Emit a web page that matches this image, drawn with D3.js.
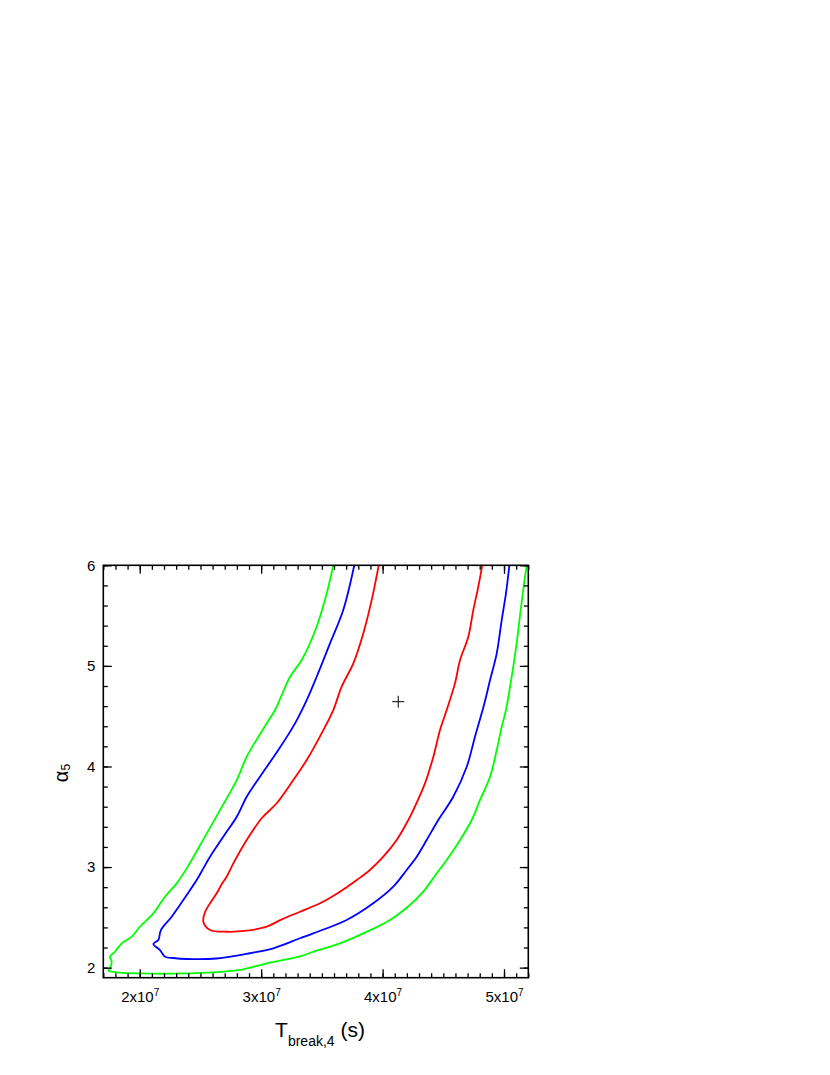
<!DOCTYPE html>
<html>
<head>
<meta charset="utf-8">
<script src="https://cdn.jsdelivr.net/npm/d3@7"></script>
<style>
  html, body { margin: 0; padding: 0; background: #fff; }
  svg { display: block; }
  text { font-family: "Liberation Sans", Arial, sans-serif; fill: #000; }
</style>
</head>
<body>
<svg id="chart" width="830" height="1075"></svg>
<script>
// ---------- data (x in seconds, y = alpha_5) ----------
const xDomain = [1.7e7, 5.2e7];
const yDomain = [1.9, 6];
const xTicks = [2e7, 3e7, 4e7, 5e7];
const xTickMantissa = ["2", "3", "4", "5"];
const xTickExponent = "7";
const yTicks = [2, 3, 4, 5, 6];
const yTickLabels = ["2", "3", "4", "5", "6"];

const bestFit = [4.129e7, 4.644];

// 1-sigma contour (red), x in units of 1e7 s
const redX = [3.968,3.910,3.841,3.759,3.663,3.594,3.512,3.375,3.265,3.128,3.004,2.881,2.771,2.716,2.678,2.634,2.579,2.538,2.524,2.579,2.716,2.881,3.046,3.164,3.320,3.485,3.649,3.787,3.896,4.006,4.116,4.212,4.253,4.349,4.418,4.473,4.528,4.596,4.638,4.706,4.747,4.788,4.821];
const redY = [6.0,5.654,5.323,5.025,4.793,4.561,4.362,4.064,3.865,3.634,3.485,3.269,3.037,2.904,2.836,2.739,2.640,2.553,2.457,2.374,2.357,2.367,2.407,2.477,2.556,2.640,2.755,2.871,2.971,3.103,3.269,3.468,3.567,3.832,4.097,4.362,4.561,4.826,5.058,5.290,5.555,5.787,6.0];

// 2-sigma contour (blue)
const blueX = [3.767,3.676,3.567,3.457,3.375,3.279,3.141,2.990,2.881,2.799,2.688,2.579,2.524,2.469,2.387,2.263,2.175,2.153,2.112,2.167,2.208,2.276,2.387,2.634,2.908,3.100,3.320,3.429,3.704,3.923,4.088,4.198,4.281,4.363,4.459,4.582,4.693,4.761,4.835,4.885,4.940,4.981,5.016,5.044];
const blueY = [6.0,5.555,5.224,4.892,4.660,4.429,4.163,3.898,3.699,3.500,3.302,3.103,2.987,2.871,2.722,2.506,2.374,2.275,2.235,2.175,2.109,2.096,2.086,2.091,2.143,2.192,2.292,2.341,2.474,2.640,2.805,2.971,3.103,3.269,3.468,3.699,3.997,4.296,4.611,4.859,5.125,5.456,5.721,6.0];

// 3-sigma contour (green)
const greenX = [3.594,3.540,3.457,3.334,3.238,3.114,3.046,2.881,2.799,2.716,2.537,2.387,2.304,2.208,2.112,2.002,1.934,1.852,1.796,1.755,1.769,1.755,1.741,1.838,2.002,2.276,2.552,2.826,3.046,3.320,3.429,3.649,3.841,4.061,4.225,4.335,4.446,4.528,4.638,4.734,4.802,4.885,4.940,4.981,5.016,5.063,5.104,5.137,5.165,5.187];
const greenY = [6.0,5.721,5.389,5.058,4.892,4.561,4.429,4.097,3.865,3.683,3.302,2.987,2.838,2.705,2.540,2.407,2.308,2.242,2.158,2.109,2.059,1.993,1.970,1.950,1.942,1.940,1.950,1.977,2.043,2.111,2.158,2.242,2.341,2.474,2.623,2.755,2.938,3.070,3.269,3.468,3.666,3.898,4.163,4.395,4.561,4.892,5.224,5.555,5.820,6.0];

const contours = [
  { name: "3sigma", xs: greenX, ys: greenY, color: "#00ff00" },
  { name: "2sigma", xs: blueX,  ys: blueY,  color: "#0000ff" },
  { name: "1sigma", xs: redX,   ys: redY,   color: "#ff0000" }
];

// ---------- layout ----------
const plot = { left: 103.3, right: 528.3, top: 565.3, bottom: 977.7 };
const svg = d3.select("#chart");

const x = d3.scaleLinear().domain(xDomain).range([plot.left, plot.right]);
const y = d3.scaleLinear().domain(yDomain).range([plot.bottom, plot.top]);

const xMinor = d3.range(17, 53).map(v => v * 1e6);
const yMinor = d3.range(20, 61, 2).map(v => v / 10);

svg.append("defs").append("clipPath").attr("id", "plotclip")
  .append("rect").attr("x", plot.left).attr("y", plot.top)
  .attr("width", plot.right - plot.left).attr("height", plot.bottom - plot.top);

// contours
const line = d3.line()
  .x(d => x(d[0] * 1e7)).y(d => y(d[1]))
  .curve(d3.curveCatmullRom.alpha(0.5));
const g = svg.append("g").attr("clip-path", "url(#plotclip)");
contours.forEach(c => {
  const pts = c.xs.map((v, i) => [v, c.ys[i]]);
  g.append("path").datum(pts)
    .attr("d", line)
    .attr("fill", "none")
    .attr("stroke", c.color)
    .attr("stroke-width", 1.8)
    .attr("stroke-linejoin", "round");
});

// best fit cross
const cx = x(bestFit[0]), cy = y(bestFit[1]);
svg.append("path")
  .attr("d", `M${cx - 6},${cy}H${cx + 6}M${cx},${cy - 6}V${cy + 6}`)
  .attr("stroke", "#000").attr("stroke-width", 1).attr("fill", "none");

// axes (inward ticks)
function styleAxis(sel) {
  sel.select(".domain").remove();
  sel.selectAll("line").attr("stroke", "#000").attr("stroke-width", 1.3);
  sel.selectAll("text").remove();
}
const fmt = () => "";
svg.append("g").attr("transform", `translate(0,${plot.bottom})`)
  .call(d3.axisBottom(x).tickValues(xMinor).tickSize(-4.5).tickFormat(fmt)).call(styleAxis);
svg.append("g").attr("transform", `translate(0,${plot.bottom})`)
  .call(d3.axisBottom(x).tickValues(xTicks).tickSize(-8.5).tickFormat(fmt)).call(styleAxis);
svg.append("g").attr("transform", `translate(0,${plot.top})`)
  .call(d3.axisTop(x).tickValues(xMinor).tickSize(-4.5).tickFormat(fmt)).call(styleAxis);
svg.append("g").attr("transform", `translate(0,${plot.top})`)
  .call(d3.axisTop(x).tickValues(xTicks).tickSize(-8.5).tickFormat(fmt)).call(styleAxis);
svg.append("g").attr("transform", `translate(${plot.left},0)`)
  .call(d3.axisLeft(y).tickValues(yMinor).tickSize(-4.5).tickFormat(fmt)).call(styleAxis);
svg.append("g").attr("transform", `translate(${plot.left},0)`)
  .call(d3.axisLeft(y).tickValues(yTicks).tickSize(-8.5).tickFormat(fmt)).call(styleAxis);
svg.append("g").attr("transform", `translate(${plot.right},0)`)
  .call(d3.axisRight(y).tickValues(yMinor).tickSize(-4.5).tickFormat(fmt)).call(styleAxis);
svg.append("g").attr("transform", `translate(${plot.right},0)`)
  .call(d3.axisRight(y).tickValues(yTicks).tickSize(-8.5).tickFormat(fmt)).call(styleAxis);

// frame
svg.append("rect")
  .attr("x", plot.left).attr("y", plot.top)
  .attr("width", plot.right - plot.left).attr("height", plot.bottom - plot.top)
  .attr("fill", "none").attr("stroke", "#000").attr("stroke-width", 1.6);

// y tick labels
svg.append("g").selectAll("text").data(yTicks).join("text")
  .attr("x", plot.left - 8)
  .attr("y", d => y(d))
  .attr("dy", "0.36em")
  .attr("text-anchor", "end")
  .attr("font-size", 15)
  .text((d, i) => yTickLabels[i]);

// x tick labels with superscripts
xTicks.forEach((v, i) => {
  const t = svg.append("text")
    .attr("x", x(v) + 0.5)
    .attr("y", 1002)
    .attr("text-anchor", "middle")
    .attr("font-size", 15);
  t.append("tspan").text(xTickMantissa[i] + "x10");
  t.append("tspan").attr("font-size", 10).attr("dy", -6.5).text(xTickExponent);
});

// x axis title
const xt = svg.append("text")
  .attr("x", 320).attr("y", 1036.7)
  .attr("text-anchor", "middle")
  .attr("font-size", 21);
xt.append("tspan").text("T");
xt.append("tspan").attr("font-size", 14).attr("dy", 9).text("break,4");
xt.append("tspan").attr("dy", -9).text(" (s)");

// y axis title
const yt = svg.append("text")
  .attr("transform", `translate(68,773) rotate(-90)`)
  .attr("text-anchor", "middle")
  .attr("font-size", 20);
yt.append("tspan").text("α");
yt.append("tspan").attr("font-size", 12).attr("dy", 2).text("5");
</script>
</body>
</html>
